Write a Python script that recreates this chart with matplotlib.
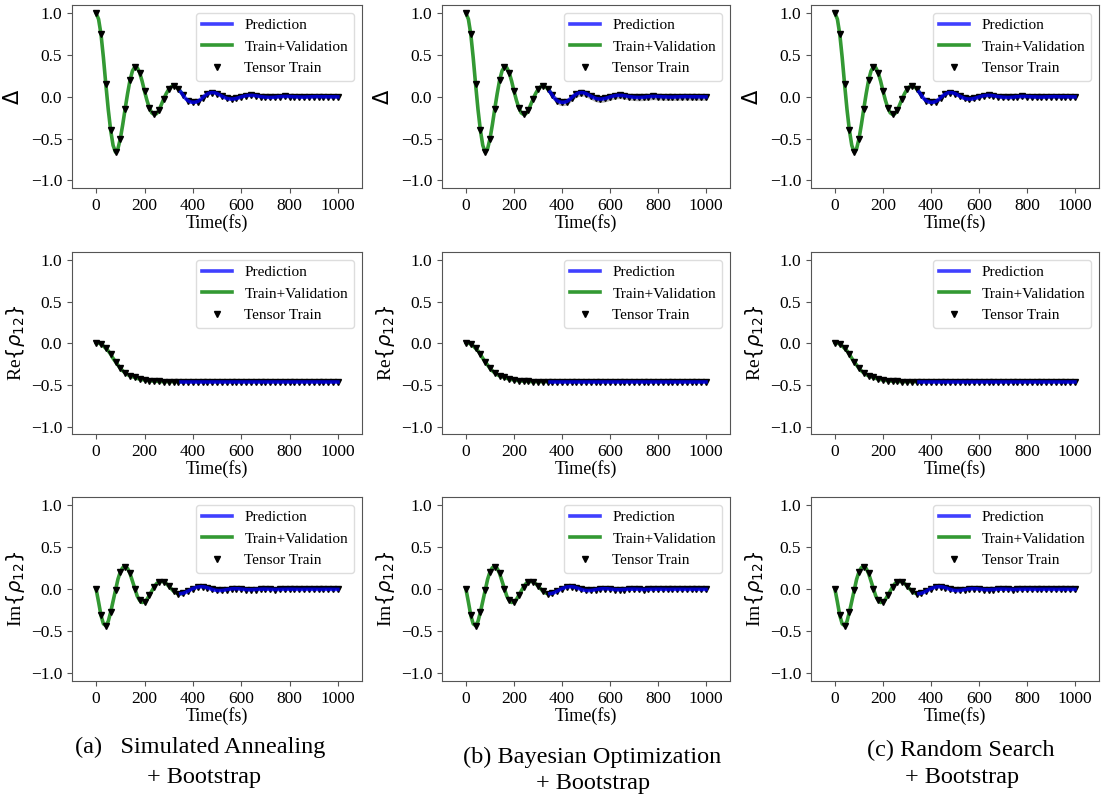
import numpy as np
import matplotlib
matplotlib.use("Agg")
import matplotlib.pyplot as plt

plt.rcParams["font.family"] = ["Liberation Serif", "DejaVu Sans"]
plt.rcParams["mathtext.fontset"] = "dejavusans"

# time grid in fs (10 fs step)
t = np.arange(0, 1001, 10)

delta = [
    1.00, 0.93, 0.75, 0.47, 0.15, -0.15, -0.40, -0.58, -0.66, -0.62,
    -0.50, -0.33, -0.14, 0.04, 0.20, 0.31, 0.36, 0.35, 0.29, 0.19,
    0.07, -0.04, -0.13, -0.19, -0.21, -0.20, -0.16, -0.09, -0.02, 0.04,
    0.09, 0.12, 0.13, 0.12, 0.10, 0.06, 0.02, -0.02, -0.045, -0.06,
    -0.065, -0.063, -0.055, -0.035, -0.01, 0.015, 0.035, 0.048, 0.052, 0.05,
    0.04, 0.025, 0.01, -0.005, -0.017, -0.024, -0.026, -0.024, -0.018, -0.01,
    0.0, 0.008, 0.014, 0.018, 0.019, 0.018, 0.014, 0.009, 0.004, 0.0,
    -0.003, -0.005, -0.006, -0.005, -0.003, 0.0, 0.003, 0.005, 0.006, 0.006,
    0.005, 0.003, 0.001, 0.0, -0.001, -0.002, -0.002, -0.001, 0.0, 0.001,
    0.002, 0.003, 0.003, 0.002, 0.002, 0.001, 0.001, 0.001, 0.001, 0.0,
    0.0,
]

re_rho = [
    0.01, 0.005, -0.01, -0.03, -0.06, -0.09, -0.13, -0.18, -0.22, -0.26,
    -0.30, -0.33, -0.355, -0.375, -0.39, -0.40, -0.41, -0.42, -0.43, -0.435,
    -0.44, -0.445, -0.448, -0.451, -0.454, -0.456, -0.458, -0.459, -0.46, -0.46,
    -0.46, -0.46, -0.46, -0.46, -0.46, -0.46, -0.46, -0.46, -0.46, -0.46,
    -0.46, -0.46, -0.46, -0.46, -0.46, -0.46, -0.46, -0.46, -0.46, -0.46,
    -0.46, -0.46, -0.46, -0.46, -0.46, -0.46, -0.46, -0.46, -0.46, -0.46,
    -0.46, -0.46, -0.46, -0.46, -0.46, -0.46, -0.46, -0.46, -0.46, -0.46,
    -0.46, -0.46, -0.46, -0.46, -0.46, -0.46, -0.46, -0.46, -0.46, -0.46,
    -0.46, -0.46, -0.46, -0.46, -0.46, -0.46, -0.46, -0.46, -0.46, -0.46,
    -0.46, -0.46, -0.46, -0.46, -0.46, -0.46, -0.46, -0.46, -0.46, -0.46,
    -0.46,
]

im_rho = [
    0.0, -0.15, -0.31, -0.41, -0.43, -0.38, -0.27, -0.14, -0.01, 0.12,
    0.21, 0.26, 0.27, 0.25, 0.19, 0.10, 0.01, -0.08, -0.13, -0.155,
    -0.15, -0.12, -0.07, -0.02, 0.03, 0.07, 0.09, 0.095, 0.09, 0.07,
    0.04, 0.01, -0.02, -0.04, -0.05, -0.05, -0.045, -0.035, -0.02, -0.005,
    0.01, 0.02, 0.028, 0.032, 0.032, 0.028, 0.02, 0.01, 0.0, -0.008,
    -0.012, -0.014, -0.012, -0.008, -0.003, 0.002, 0.006, 0.008, 0.008, 0.007,
    0.004, 0.001, -0.002, -0.004, -0.004, -0.003, -0.001, 0.001, 0.002, 0.003,
    0.003, 0.002, 0.001, 0.0, -0.001, -0.001, 0.0, 0.001, 0.001, 0.002,
    0.002, 0.002, 0.001, 0.001, 0.0, 0.0, 0.001, 0.001, 0.001, 0.001,
    0.001, 0.001, 0.0, 0.0, 0.001, 0.001, 0.001, 0.001, 0.0, 0.0,
    0.0,
]

series = [delta, re_rho, im_rho]
ylabels = ["Δ", r"Re$\{\rho_{12}\}$", r"Im$\{\rho_{12}\}$"]

# bootstrap spread of the Δ prediction for each search method
delta_spread = [0.012, 0.04, 0.02]

captions = [
    ["(a)   Simulated Annealing", "+ Bootstrap"],
    ["(b) Bayesian Optimization", "+ Bootstrap"],
    ["(c) Random Search", "+ Bootstrap"],
]

split = 35  # end of the train+validation window (350 fs)

W, H = 1106, 800
fig = plt.figure(figsize=(W / 100, H / 100), dpi=100)

col_left = [72, 442, 811]
col_width = [290, 288, 288]
row_top = [5, 252, 497]
row_bottom = [188, 434, 681]

for c in range(3):
    for r in range(3):
        x0 = col_left[c] / W
        y0 = (H - row_bottom[r]) / H
        ax = fig.add_axes([x0, y0, col_width[c] / W, (row_bottom[r] - row_top[r]) / H])
        y = np.array(series[r])

        if r == 0:
            s = delta_spread[c]
            ax.fill_between(t[split:], y[split:] - s, y[split:] + s,
                            color="gray", alpha=0.6, lw=0, zorder=1)
        ax.plot(t[split:], y[split:], color="b", alpha=0.75, lw=2.6, zorder=3,
                label="Prediction")
        ax.plot(t[:split + 1], y[:split + 1], color="g", alpha=0.8, lw=2.6, zorder=2,
                label="Train+Validation")
        ax.plot(t[::2], y[::2], "v", color="k", ms=4, ls="none", zorder=2.5,
                label="Tensor Train")

        ax.set_xlim(-100, 1100)
        ax.set_ylim(-1.09, 1.1)
        ax.set_xticks([0, 200, 400, 600, 800, 1000])
        ax.set_yticks([-1.0, -0.5, 0.0, 0.5, 1.0])
        ax.tick_params(labelsize=12.5, length=3.5, color="#555555")
        for sp in ax.spines.values():
            sp.set_color("#555555")
        ax.set_xlabel("Time(fs)", fontsize=13, labelpad=0)
        if r == 0:
            ax.set_ylabel(ylabels[r], fontsize=15, family="DejaVu Sans", labelpad=6)
        else:
            ax.set_ylabel(ylabels[r], fontsize=14, labelpad=3)
        ax.legend(loc="upper right", fontsize=11, framealpha=1, edgecolor="#dddddd")

cap_x = [[75, 147], [463, 536], [867, 905]]
cap_y = [[747, 777], [757, 783], [750, 778]]
for c in range(3):
    for k in range(2):
        fig.text(cap_x[c][k] / W, 1 - cap_y[c][k] / H, captions[c][k],
                 fontsize=17.5, ha="left", va="center")

fig.savefig("out.png", dpi=100)
